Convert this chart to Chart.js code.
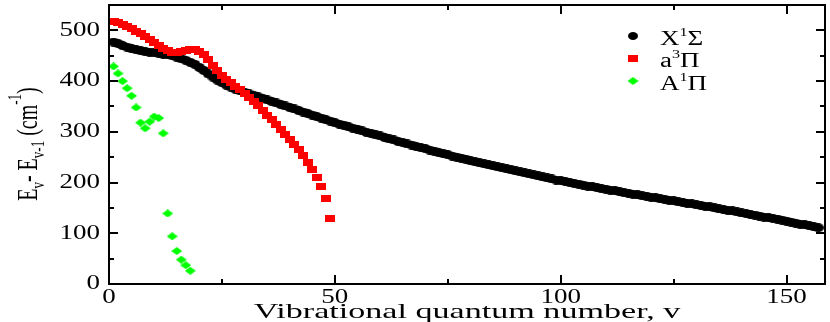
<!DOCTYPE html>
<html>
<head>
<meta charset="utf-8">
<script src="https://cdn.jsdelivr.net/npm/chart.js@4.4.0/dist/chart.umd.min.js"></script>
<style>
  body { margin: 0; background: #fff; }
</style>
</head>
<body>
<canvas id="chart" width="830" height="322"></canvas>
<script>
// first vibrational level of every series (E_v - E_v-1 starts at v = 1)
const firstLevel = 1;

// X1Sigma, v = 1..157
const groundX = [
  477, 474, 470, 467, 464, 462, 460, 458, 457, 456,
  455, 453, 452, 450, 447, 444, 441, 437, 433, 427,
  421, 414, 408, 402, 397, 392, 388, 384, 381, 378,
  375, 372, 369, 366, 363, 360, 357, 354, 351, 348,
  345, 342, 339, 336, 333, 330, 327, 324, 321, 318,
  315, 313, 310, 307, 305, 302, 299, 297, 294, 292,
  289, 286, 284, 281, 279, 276, 274, 271, 269, 267,
  264, 262, 259, 257, 255, 252, 250, 248, 246, 243,
  241, 239, 237, 235, 233, 231, 229, 227, 225, 223,
  221, 219, 217, 215, 213, 211, 209, 207, 205, 204,
  202, 200, 198, 197, 195, 193, 192, 190, 188, 187,
  185, 184, 182, 180, 179, 177, 176, 174, 173, 171,
  170, 168, 167, 165, 164, 162, 161, 159, 158, 156,
  155, 153, 152, 150, 148, 147, 145, 144, 142, 140,
  139, 137, 136, 134, 132, 131, 129, 128, 126, 124,
  122, 120, 118, 117, 115, 113, 111
];

// a3Pi, v = 1..49
const tripletA = [
  518, 515, 511, 507, 503, 498, 493, 488, 482, 476,
  470, 465, 460, 457, 456, 458, 461, 463, 462, 459,
  452, 442, 431, 421, 412, 404, 397, 390, 383, 376,
  368, 360, 351, 342, 333, 324, 314, 304, 294, 285,
  275, 265, 253, 240, 226, 210, 192, 169, 130
];

// A1Pi, v = 1..18
const singletA = [
  429, 415, 400, 386, 371, 348, 318, 307, 320, 330,
  327, 297, 139, 94, 65, 48, 37, 26
];

const xTicks = [0, 50, 100, 150];
const xMinorTicks = [25, 75, 125];
const yTicks = [0, 100, 200, 300, 400, 500];
const yMinorTicks = [50, 150, 250, 350, 450];

// legend: [main, superscript, term]
const legendNames = [['X', '1', 'Σ'], ['a', '3', 'Π'], ['A', '1', 'Π']];

const FONT = '"Liberation Serif", "Times New Roman", serif';
const STRETCH = 1.35;

function toPoints(arr) {
  return arr.map((y, i) => ({ x: i + firstLevel, y: y }));
}

function makeMarker(w, h, color, shape) {
  const c = document.createElement('canvas');
  c.width = w;
  c.height = h;
  const g = c.getContext('2d');
  g.fillStyle = color;
  g.beginPath();
  if (shape === 'circle') {
    g.ellipse(w / 2, h / 2, w / 2, h / 2, 0, 0, 2 * Math.PI);
  } else if (shape === 'diamond') {
    g.moveTo(w / 2, 0);
    g.lineTo(w, h / 2);
    g.lineTo(w / 2, h);
    g.lineTo(0, h / 2);
    g.closePath();
  } else {
    g.rect(0, 0, w, h);
  }
  g.fill();
  return c;
}

const dotMark = makeMarker(11, 9, '#000000', 'circle');
const legendDot = makeMarker(10, 8, '#000000', 'circle');
const squareMark = makeMarker(10, 7, '#ff0000', 'rect');
const diamondMark = makeMarker(11, 8, '#00ff00', 'diamond');
const markers = [legendDot, squareMark, diamondMark];

// stretched text (the picture is wider than it is tall)
function stretchText(ctx, str, x, y, size, align, base, sx) {
  ctx.save();
  ctx.translate(x, y);
  ctx.scale(sx || STRETCH, 1);
  ctx.font = size + 'px ' + FONT;
  ctx.textAlign = align;
  ctx.textBaseline = base;
  ctx.fillText(str, 0, 0);
  ctx.restore();
}

// rich text pieces drawn left to right from (0,0) on the baseline
function richWidth(ctx, parts) {
  let w = 0;
  parts.forEach(p => {
    ctx.font = p.size + 'px ' + FONT;
    w += ctx.measureText(p.t).width;
  });
  return w;
}
function richDraw(ctx, parts, x0) {
  let x = x0;
  parts.forEach(p => {
    ctx.font = p.size + 'px ' + FONT;
    ctx.fillText(p.t, x, p.dy || 0);
    x += ctx.measureText(p.t).width;
  });
}

const framePlugin = {
  id: 'framePlugin',
  afterDraw(chart) {
    const ctx = chart.ctx;
    const a = chart.chartArea;
    const xs = chart.scales.x;
    const ys = chart.scales.y;
    ctx.save();
    ctx.fillStyle = '#000';
    ctx.strokeStyle = '#000';
    ctx.lineWidth = 2;
    ctx.strokeRect(a.left, a.top, a.right - a.left, a.bottom - a.top);

    ctx.beginPath();
    const tick = (v, len, horiz) => {
      if (horiz) {
        const px = Math.round(xs.getPixelForValue(v));
        ctx.moveTo(px, a.bottom); ctx.lineTo(px, a.bottom - len);
        ctx.moveTo(px, a.top); ctx.lineTo(px, a.top + len);
      } else {
        const py = Math.round(ys.getPixelForValue(v));
        ctx.moveTo(a.left, py); ctx.lineTo(a.left + len, py);
        ctx.moveTo(a.right, py); ctx.lineTo(a.right - len, py);
      }
    };
    xTicks.forEach(v => tick(v, 9, true));
    xMinorTicks.forEach(v => tick(v, 5, true));
    yTicks.forEach(v => tick(v, 9, false));
    yMinorTicks.forEach(v => tick(v, 5, false));
    ctx.stroke();

    // tick labels
    xTicks.forEach(v => stretchText(ctx, String(v), xs.getPixelForValue(v), 298, 20, 'center', 'middle'));
    yTicks.forEach(v => stretchText(ctx, String(v), 100, ys.getPixelForValue(v), 20, 'right', 'middle'));

    // x title
    stretchText(ctx, 'Vibrational quantum number, v', (a.left + a.right) / 2, 318, 22, 'center', 'alphabetic', 1.55);

    // y title, rotated, glyph height stretched across the page
    const yParts = [
      { t: 'E', size: 20 },
      { t: 'v', size: 13, dy: 5 },
      { t: '- E', size: 20 },
      { t: 'v-1', size: 13, dy: 5 },
      { t: ' (cm', size: 20 },
      { t: '-1', size: 13, dy: -11 },
      { t: ')', size: 20 }
    ];
    ctx.save();
    ctx.translate(37, 144);
    ctx.scale(STRETCH + 0.1, 1);
    ctx.rotate(-Math.PI / 2);
    ctx.textAlign = 'left';
    ctx.textBaseline = 'alphabetic';
    richDraw(ctx, yParts, -richWidth(ctx, yParts) / 2);
    ctx.restore();

    // legend
    const rows = [36, 58, 81];
    legendNames.forEach((n, i) => {
      const mk = markers[i];
      ctx.drawImage(mk, 633 - mk.width / 2, rows[i] - mk.height / 2);
      ctx.save();
      ctx.translate(660, rows[i] + 9);
      ctx.scale(STRETCH, 1);
      ctx.textAlign = 'left';
      ctx.textBaseline = 'alphabetic';
      richDraw(ctx, [
        { t: n[0], size: 20 },
        { t: n[1], size: 12, dy: -9 },
        { t: n[2], size: 20 }
      ], 0);
      ctx.restore();
    });
    ctx.restore();
  }
};

new Chart(document.getElementById('chart'), {
  type: 'scatter',
  data: {
    datasets: [
      { label: 'X¹Σ', data: toPoints(groundX), pointStyle: dotMark, order: 3 },
      { label: 'a³Π', data: toPoints(tripletA), pointStyle: squareMark, order: 2 },
      { label: 'A¹Π', data: toPoints(singletA), pointStyle: diamondMark, order: 1 }
    ]
  },
  options: {
    responsive: false,
    animation: false,
    devicePixelRatio: 1,
    layout: { padding: { left: 109, right: 3, top: 3, bottom: 38 } },
    scales: {
      x: { type: 'linear', min: 0, max: 158.5, display: false },
      y: { type: 'linear', min: 0, max: 550, display: false }
    },
    plugins: {
      legend: { display: false },
      tooltip: { enabled: false }
    }
  },
  plugins: [framePlugin]
});
</script>
</body>
</html>
